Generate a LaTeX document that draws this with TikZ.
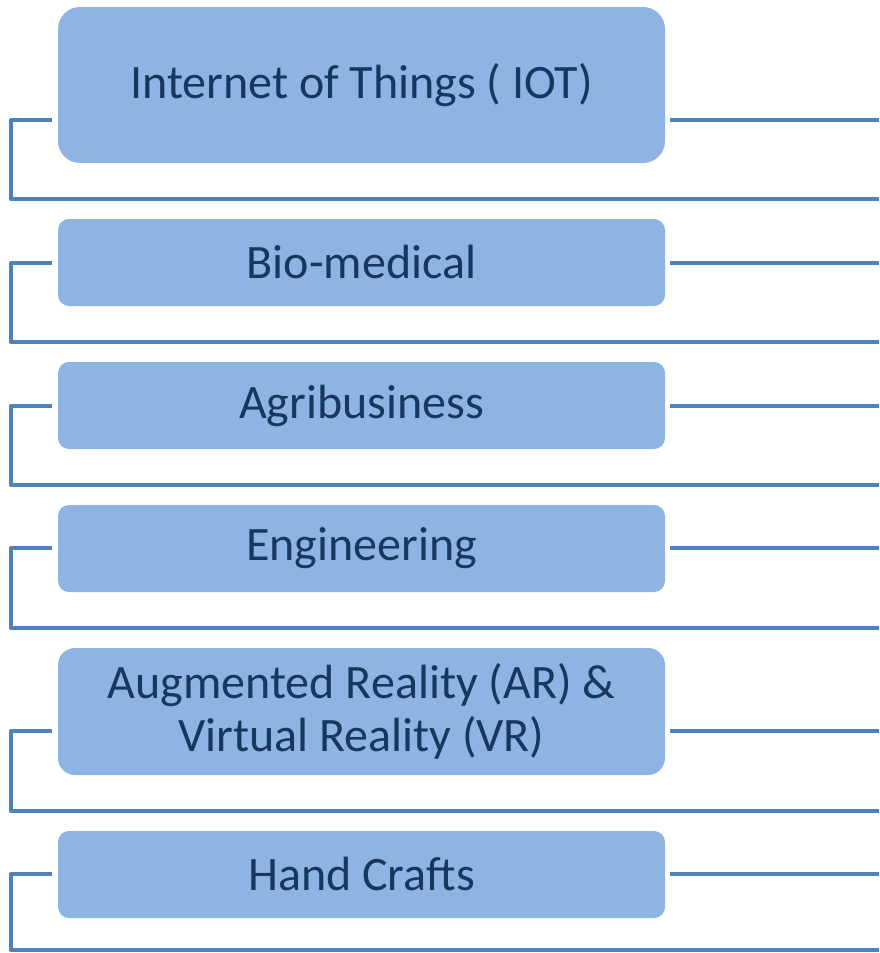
\documentclass[tikz,border=0pt]{standalone}
\usepackage{fontspec}
\setmainfont{Carlito}
\definecolor{boxfill}{HTML}{8EB4E3}
\definecolor{linec}{HTML}{4F81BD}
\definecolor{txtc}{HTML}{17375E}
\tikzset{
  itembox/.style={fill=boxfill, draw=none, inner sep=0pt, minimum width=607pt,
    text=txtc, font=\fontsize{48}{53}\selectfont, align=center, rounded corners=11pt},
  conn/.style={draw=linec, line width=4.5pt, line join=round}
}
\begin{document}
\begin{tikzpicture}[x=1pt,y=-1pt]
\useasboundingbox (0,0) rectangle (879,953);
% boxes
\node[itembox, minimum height=156pt, rounded corners=22pt] (b1) at (361.5,85) {Internet of Things ( IOT)};
\node[itembox, minimum height=87pt] (b2) at (361.5,262.5) {Bio-medical};
\node[itembox, minimum height=87pt] (b3) at (361.5,405.5) {Agribusiness};
\node[itembox, minimum height=87pt] (b4) at (361.5,548.5) {Engineering};
\node[itembox, minimum height=127pt, rounded corners=17pt] (b5) at (361.5,711.5) {Augmented Reality (AR) \&\\Virtual Reality (VR)};
\node[itembox, minimum height=87pt] (b6) at (361.5,874.5) {Hand Crafts};
% connectors
\foreach \i/\s/\b in {1/120/199, 2/263/342, 3/406/485, 4/548/628, 5/731/811, 6/874/950}{
  \coordinate (l\i) at (52,\s);
  \coordinate (c\i) at (11,\b);
  \coordinate (e\i) at (879,\b);
  \coordinate (r\i) at (670,\s);
  \coordinate (re\i) at (879,\s);
  \draw[conn] (l\i) -| (c\i) -- (e\i);
  \draw[conn] (r\i) -- (re\i);
}
\end{tikzpicture}
\end{document}
